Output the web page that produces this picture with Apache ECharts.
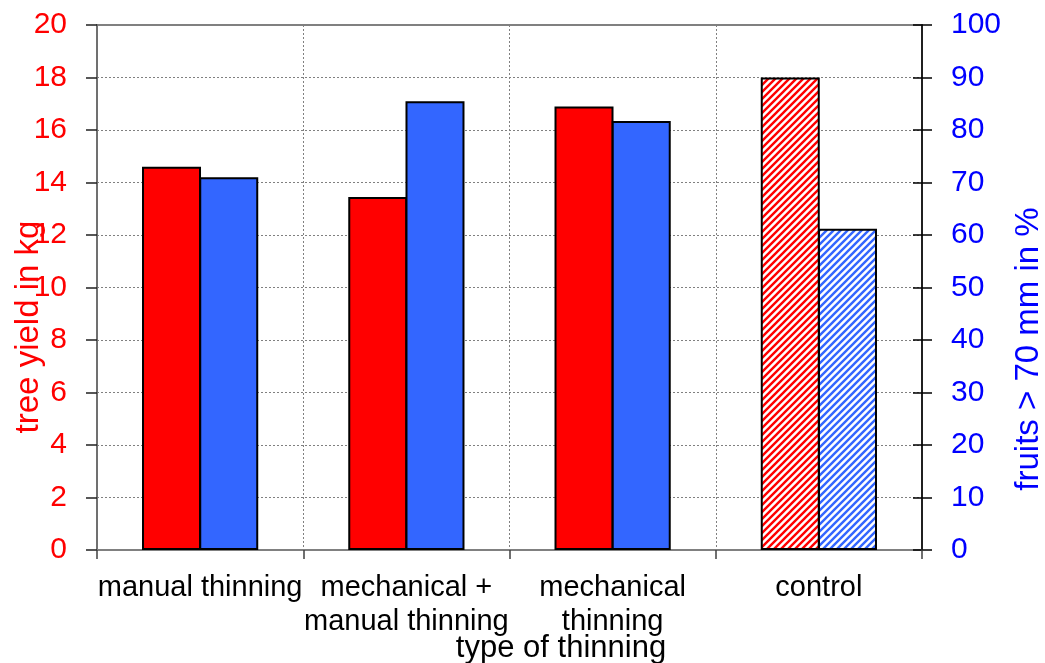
<!DOCTYPE html>
<html>
<head>
<meta charset="utf-8">
<script src="https://cdn.jsdelivr.net/npm/echarts@6/dist/echarts.min.js"></script>
<style>
html,body{margin:0;padding:0;background:#fff;}
#chart{width:1045px;height:663px;}
</style>
</head>
<body>
<div id="chart"></div>
<script>
const categories = ['manual thinning', 'mechanical +\nmanual thinning', 'mechanical\nthinning', 'control'];
const yieldKg = [14.6, 13.45, 16.9, 18.0];
const fruitsPct = [71.0, 85.5, 81.7, 61.2];
const hatchedCategory = 'control';

const FONT = '"Liberation Sans", Arial, sans-serif';
const RED = '#FF0000';
const BLUE_BAR = '#3366FF';
const BLUE_TXT = '#0000FF';

function hatch(color) {
  const s = 7;
  const c = document.createElement('canvas');
  c.width = s; c.height = s;
  const ctx = c.getContext('2d');
  ctx.fillStyle = '#fff';
  ctx.fillRect(0, 0, s, s);
  ctx.strokeStyle = color;
  ctx.lineWidth = 2.4;
  ctx.beginPath();
  ctx.moveTo(0, s); ctx.lineTo(s, 0);
  ctx.moveTo(-s / 2, s / 2); ctx.lineTo(s / 2, -s / 2);
  ctx.moveTo(s / 2, s * 1.5); ctx.lineTo(s * 1.5, s / 2);
  ctx.stroke();
  return { image: c, repeat: 'repeat' };
}
const redHatch = hatch(RED);
const blueHatch = hatch(BLUE_BAR);

function build(values, solid, pattern) {
  return values.map((v, i) => ({
    value: v,
    itemStyle: { color: categories[i] === hatchedCategory ? pattern : solid }
  }));
}

const chart = echarts.init(document.getElementById('chart'), null, { renderer: 'canvas' });
chart.setOption({
  animation: false,
  backgroundColor: '#fff',
  grid: { left: 97, right: 123, top: 25, bottom: 113, show: true, borderColor: '#808080', borderWidth: 2, backgroundColor: 'transparent' },
  xAxis: {
    type: 'category',
    data: categories,
    axisLine: { lineStyle: { color: '#808080', width: 2 } },
    axisTick: { show: true, length: 9, lineStyle: { color: '#404040', width: 1.5 } },
    axisLabel: { color: '#000', fontFamily: FONT, fontSize: 29, lineHeight: 34, margin: 21, interval: 0 },
    splitLine: { show: true, interval: 0, lineStyle: { color: '#808080', width: 1, type: [2, 2] } }
  },
  yAxis: [
    {
      type: 'value', min: 0, max: 20, interval: 2, position: 'left',
      axisLine: { show: true, lineStyle: { color: '#707070', width: 2 } },
      axisTick: { show: true, length: 11, lineStyle: { color: '#202020', width: 1.5 } },
      axisLabel: { color: RED, fontFamily: FONT, fontSize: 30, margin: 30 },
      splitLine: { show: true, lineStyle: { color: '#808080', width: 1, type: [2, 2] } }
    },
    {
      type: 'value', min: 0, max: 100, interval: 10, position: 'right',
      axisLine: { show: true, lineStyle: { color: '#000', width: 1.5 } },
      axisTick: { show: true, length: 10, lineStyle: { color: '#000', width: 1.5 } },
      axisLabel: { color: BLUE_TXT, fontFamily: FONT, fontSize: 30, margin: 29 },
      splitLine: { show: false }
    },
    {
      type: 'value', min: 0, max: 100, interval: 10, position: 'right',
      axisLine: { show: false },
      axisTick: { show: true, inside: true, length: 9, lineStyle: { color: '#000', width: 1.5 } },
      axisLabel: { show: false },
      splitLine: { show: false }
    }
  ],
  series: [
    {
      name: 'tree yield in kg', type: 'bar', yAxisIndex: 0,
      barWidth: 59, barGap: '-3%',
      itemStyle: { borderColor: '#000', borderWidth: 2 },
      data: build(yieldKg, RED, redHatch)
    },
    {
      name: 'fruits > 70 mm in %', type: 'bar', yAxisIndex: 1,
      barWidth: 59, barGap: '-3%',
      itemStyle: { borderColor: '#000', borderWidth: 2 },
      data: build(fruitsPct, BLUE_BAR, blueHatch)
    }
  ],
  graphic: [
    { type: 'text', x: 29, y: 327, rotation: Math.PI / 2,
      style: { text: 'tree yield in kg', fill: RED, font: '33px ' + FONT, textAlign: 'center', textVerticalAlign: 'middle' } },
    { type: 'text', x: 1029, y: 349, rotation: Math.PI / 2,
      style: { text: 'fruits > 70 mm in %', fill: BLUE_TXT, font: '33px ' + FONT, textAlign: 'center', textVerticalAlign: 'middle' } },
    { type: 'text', x: 561, y: 648,
      style: { text: 'type of thinning', fill: '#000', font: '31px ' + FONT, textAlign: 'center', textVerticalAlign: 'middle' } }
  ]
});
</script>
</body>
</html>
